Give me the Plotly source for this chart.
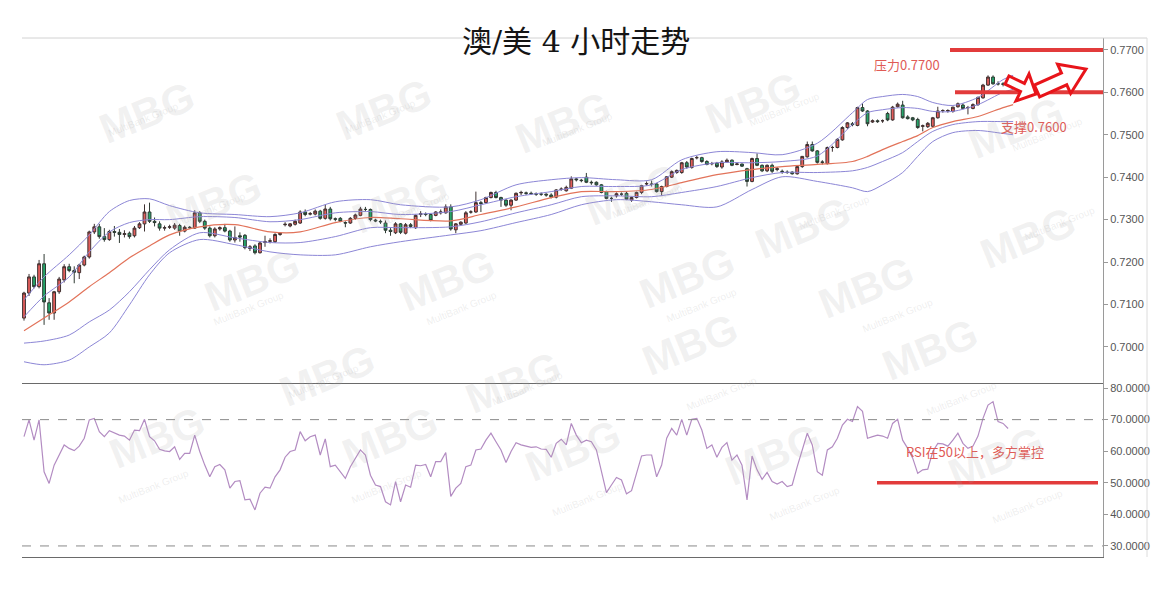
import plotly.graph_objects as go
import math

# ---------------- data (4h candles, prices in pips x 1e-4) ----------------
opens = [7068,7127,7165,7142,7196,7104,7080,7130,7158,7189,
         7180,7175,7193,7212,7271,7283,7260,7253,7272,7270,
         7265,7268,7262,7281,7290,7318,7296,7290,7280,7282,
         7280,7286,7273,7282,7280,7316,7296,7280,7262,7278,
         7281,7273,7252,7262,7263,7232,7238,7222,7246,7249,
         7248,7265,7288,7285,7289,7292,7318,7313,7313,7320,
         7303,7325,7302,7303,7293,7292,7303,7310,7324,7324,
         7299,7296,7292,7275,7269,7290,7268,7288,7281,7312,
         7313,7312,7310,7316,7316,7330,7276,7289,7292,7318,
         7318,7340,7340,7352,7364,7352,7346,7334,7346,7363,
         7363,7362,7361,7360,7360,7358,7353,7371,7368,7374,
         7396,7393,7400,7388,7388,7382,7366,7350,7356,7360,
         7362,7346,7352,7364,7384,7384,7384,7366,7378,7400,
         7411,7411,7434,7423,7446,7446,7437,7432,7433,7424,
         7436,7440,7430,7431,7420,7390,7444,7428,7415,7428,
         7418,7414,7412,7412,7408,7425,7448,7477,7462,7436,
         7432,7470,7470,7488,7517,7526,7522,7564,7556,7530,
         7533,7533,7550,7535,7566,7570,7542,7540,7536,7520,
         7519,7520,7540,7557,7556,7555,7566,7570,7564,7562,
         7571,7587,7617,7636,7620,7620,7618]
highs = [7130,7172,7170,7205,7219,7115,7132,7165,7195,7196,
         7190,7196,7215,7274,7290,7290,7280,7276,7285,7278,
         7275,7272,7285,7294,7336,7340,7305,7296,7286,7288,
         7292,7290,7286,7285,7322,7320,7300,7284,7282,7284,
         7290,7276,7284,7270,7266,7240,7242,7248,7262,7256,
         7268,7270,7294,7292,7300,7322,7324,7318,7324,7323,
         7335,7330,7305,7306,7296,7306,7314,7330,7330,7326,
         7302,7300,7298,7280,7294,7292,7292,7292,7312,7320,
         7317,7314,7320,7324,7336,7336,7292,7296,7320,7322,
         7366,7344,7354,7366,7368,7354,7348,7348,7364,7368,
         7366,7366,7364,7364,7362,7362,7372,7376,7380,7402,
         7398,7396,7410,7392,7390,7384,7368,7354,7364,7364,
         7366,7354,7366,7382,7390,7392,7386,7380,7402,7416,
         7418,7436,7438,7446,7450,7448,7440,7436,7436,7440,
         7444,7442,7434,7432,7422,7446,7456,7430,7430,7432,
         7424,7418,7416,7414,7427,7450,7484,7484,7464,7440,
         7472,7474,7492,7520,7530,7530,7566,7574,7558,7536,
         7536,7536,7554,7568,7576,7580,7546,7542,7540,7524,
         7530,7542,7566,7560,7560,7566,7576,7574,7568,7574,
         7590,7620,7640,7640,7626,7624,7622]
lows = [7062,7120,7138,7138,7052,7064,7064,7125,7152,7176,
        7150,7160,7190,7208,7266,7255,7248,7250,7260,7245,
        7258,7255,7258,7278,7272,7292,7284,7274,7274,7278,
        7276,7262,7270,7278,7278,7292,7276,7258,7258,7274,
        7270,7248,7246,7248,7230,7226,7218,7220,7236,7244,
        7245,7262,7284,7282,7286,7290,7308,7310,7310,7300,
        7300,7298,7296,7294,7282,7290,7300,7308,7320,7296,
        7294,7290,7268,7262,7266,7266,7265,7280,7278,7306,
        7308,7296,7308,7312,7314,7274,7268,7286,7290,7314,
        7316,7318,7338,7350,7350,7330,7330,7322,7344,7358,
        7358,7358,7356,7356,7354,7350,7350,7368,7366,7372,
        7390,7388,7386,7382,7380,7362,7348,7342,7352,7356,
        7346,7342,7350,7360,7380,7378,7364,7356,7376,7398,
        7408,7408,7420,7420,7442,7434,7428,7428,7422,7420,
        7434,7426,7428,7424,7378,7388,7426,7412,7412,7410,
        7414,7408,7408,7406,7406,7422,7446,7460,7432,7430,
        7430,7460,7468,7486,7514,7520,7520,7554,7520,7528,
        7528,7528,7532,7533,7564,7538,7536,7532,7514,7508,
        7516,7518,7538,7552,7552,7552,7564,7560,7548,7560,
        7568,7585,7615,7618,7616,7614,7614]
closes = [7127,7165,7142,7196,7106,7080,7130,7160,7189,7180,
          7176,7193,7212,7271,7283,7260,7253,7272,7270,7265,
          7267,7260,7280,7290,7318,7296,7293,7280,7281,7283,
          7287,7273,7282,7281,7316,7296,7280,7262,7278,7281,
          7273,7252,7258,7259,7234,7236,7222,7245,7248,7250,
          7265,7268,7289,7290,7296,7318,7312,7314,7320,7303,
          7325,7302,7301,7296,7292,7303,7311,7325,7324,7300,
          7297,7295,7275,7272,7290,7270,7288,7284,7310,7314,
          7312,7298,7318,7318,7330,7278,7290,7294,7316,7318,
          7340,7338,7352,7364,7352,7346,7334,7346,7362,7364,
          7362,7361,7360,7360,7358,7353,7370,7372,7376,7396,
          7394,7392,7388,7387,7382,7364,7350,7350,7361,7360,
          7348,7352,7364,7380,7385,7383,7366,7378,7401,7413,
          7416,7434,7424,7444,7446,7437,7430,7432,7425,7436,
          7440,7428,7431,7426,7390,7444,7428,7415,7428,7414,
          7420,7413,7411,7408,7425,7449,7477,7462,7435,7435,
          7470,7470,7489,7517,7528,7524,7564,7556,7526,7533,
          7531,7533,7535,7565,7572,7540,7538,7535,7517,7521,
          7527,7540,7556,7557,7557,7565,7573,7562,7564,7571,
          7588,7617,7636,7620,7620,7619,7617]

# Bollinger bands at sample candles
band_idx = [0,4,9,13,17,21,25,29,35,42,49,55,62,69,75,85,91,98,105,111,
            118,125,131,138,145,151,158,165,168,171,175,178,181,185,190,195,197]
band_upper2 = [0.7111,0.7165,0.7217,0.7264,0.7319,0.7345,0.7349,0.7333,0.7316,0.7312,
               0.7307,0.7316,0.7342,0.7347,0.7335,0.7330,0.7347,0.7382,0.7394,0.7399,
               0.7394,0.7394,0.7441,0.7460,0.7458,0.7453,0.7480,0.7552,0.7583,0.7590,
               0.7595,0.7590,0.7576,0.7569,0.7588,0.7630,0.7640]
band_upper1 = [0.7071,0.7120,0.7165,0.7224,0.7271,0.7293,0.7300,0.7300,0.7307,0.7305,
               0.7295,0.7300,0.7316,0.7319,0.7312,0.7319,0.7335,0.7354,0.7366,0.7378,
               0.7378,0.7382,0.7418,0.7434,0.7434,0.7437,0.7450,0.7524,0.7552,0.7559,
               0.7564,0.7562,0.7555,0.7555,0.7571,0.7600,0.7607]
band_mid = [0.7038,0.7068,0.7106,0.7142,0.7175,0.7210,0.7238,0.7264,0.7283,0.7288,
            0.7271,0.7271,0.7293,0.7305,0.7302,0.7297,0.7312,0.7330,0.7352,0.7366,
            0.7366,0.7371,0.7387,0.7406,0.7418,0.7425,0.7430,0.7437,0.7449,0.7465,
            0.7484,0.7498,0.7517,0.7531,0.7543,0.7564,0.7571]
band_lower1 = [0.7009,0.7014,0.7028,0.7059,0.7087,0.7130,0.7182,0.7229,0.7269,0.7257,
               0.7246,0.7246,0.7260,0.7281,0.7281,0.7283,0.7295,0.7316,0.7335,0.7354,
               0.7356,0.7354,0.7364,0.7378,0.7399,0.7411,0.7411,0.7415,0.7423,0.7437,
               0.7458,0.7484,0.7508,0.7524,0.7531,0.7531,0.7531]
band_lower2 = [0.6965,0.6958,0.6969,0.7000,0.7033,0.7099,0.7170,0.7222,0.7253,0.7241,
               0.7224,0.7217,0.7217,0.7236,0.7248,0.7264,0.7274,0.7293,0.7312,0.7335,
               0.7347,0.7342,0.7335,0.7330,0.7371,0.7401,0.7390,0.7375,0.7366,0.7382,
               0.7411,0.7449,0.7484,0.7505,0.7510,0.7503,0.7500]

rsi = [64.6,69.9,63.5,69.9,53.5,49.8,55.6,58.8,62.0,60.9,
       60.2,61.6,64.1,69.9,70.4,66.2,64.6,66.5,65.7,65.1,
       64.8,63.5,66.7,66.5,70.1,64.6,63.3,60.6,60.1,59.9,
       61.4,57.4,59.3,59.3,65.1,59.9,55.6,51.9,55.1,55.8,
       54.1,48.3,50.4,50.7,44.6,44.8,41.4,46.7,48.6,48.3,
       51.9,54.1,58.1,59.9,60.4,66.2,63.3,64.6,65.1,58.8,
       63.9,55.1,55.6,53.5,51.4,55.1,57.8,60.4,58.8,52.4,
       49.3,48.8,44.0,43.0,50.4,44.0,49.3,48.6,55.6,55.4,
       55.8,51.9,56.7,56.7,59.6,45.7,48.3,49.8,55.1,55.6,
       60.4,60.7,63.5,65.7,63.0,60.4,56.4,59.9,62.7,62.0,
       61.6,61.2,61.4,60.7,60.6,58.1,62.5,63.8,62.0,68.8,
       65.1,62.7,63.5,63.0,60.4,54.1,46.9,49.3,51.7,50.9,
       46.5,47.5,53.0,58.5,58.8,58.8,51.9,55.6,64.1,67.2,
       65.1,70.1,65.1,70.1,70.4,66.7,60.9,62.0,58.1,61.2,
       62.7,57.2,58.8,55.6,44.6,58.5,54.1,51.1,53.3,50.4,
       49.6,50.4,48.8,49.3,55.1,60.4,65.7,62.0,53.5,52.4,
       60.4,61.4,64.1,68.3,70.1,69.4,74.1,72.6,64.1,64.6,
       65.1,64.8,64.1,68.8,70.1,63.5,60.9,57.8,53.0,54.1,
       54.3,59.9,62.5,62.3,61.6,63.5,65.7,62.5,60.9,61.6,
       64.8,70.4,74.6,75.7,69.4,68.8,67.2]

price_ticks = [0.70, 0.71, 0.72, 0.73, 0.74, 0.75, 0.76, 0.77]
rsi_ticks = [30, 40, 50, 60, 70, 80]
rsi_guides = [70, 30]
resistance = 0.7700
support = 0.7600
rsi_level = 50

title = "澳/美 4 小时走势"
label_res = "压力0.7700"
label_sup = "支撑0.7600"
label_rsi = "RSI在50以上，多方掌控"

# ---------------- geometry (page pixels) ----------------
W, H = 1166, 597
PL, PR, PT, PB = 22, 1103, 38, 557       # plot area in page pixels
PW, PH = PR - PL, PB - PT
ML, MT = PL, PT
MR = W - PR
MB = H - PB
split = (PB - 383) / PH

def px2paper(x, y):
    return (x - PL) / PW, (PB - y) / PH

# ---------------- figure ----------------
idx = list(range(len(closes)))
p = lambda a: [v / 10000 for v in a]

fig = go.Figure()

band_col = "#8c86d6"
for arr in (band_upper2, band_upper1, band_lower1, band_lower2):
    fig.add_trace(go.Scatter(x=band_idx, y=arr, mode="lines",
                             line=dict(color=band_col, width=1, shape="spline", smoothing=0.8),
                             hoverinfo="skip", showlegend=False))
fig.add_trace(go.Scatter(x=band_idx, y=band_mid, mode="lines",
                         line=dict(color="#e2735a", width=1.2, shape="spline", smoothing=0.8),
                         hoverinfo="skip", showlegend=False))

fig.add_trace(go.Candlestick(
    x=idx, open=p(opens), high=p(highs), low=p(lows), close=p(closes),
    increasing=dict(fillcolor="#e35d5b", line=dict(color="#3d3030", width=1)),
    decreasing=dict(fillcolor="#25a56a", line=dict(color="#2f3a33", width=1)),
    whiskerwidth=0, showlegend=False, hoverinfo="skip"))

fig.add_trace(go.Scatter(x=idx, y=rsi, mode="lines", xaxis="x2", yaxis="y2",
                         line=dict(color="#b38cc2", width=1.2),
                         hoverinfo="skip", showlegend=False))

tickfont = dict(family="Liberation Sans, Arial, sans-serif", size=11, color="#555555")
xr = [-0.4, 214.9]
fig.update_layout(
    width=W, height=H, autosize=False,
    margin=dict(l=ML, r=MR, t=MT, b=MB, pad=0),
    paper_bgcolor="white", plot_bgcolor="white",
    boxgap=0.2,
    xaxis=dict(domain=[0, 1], anchor="y", range=xr, showticklabels=False, showgrid=False,
               zeroline=False, showline=True, linecolor="#6a6a6a", linewidth=1, ticks="",
               rangeslider=dict(visible=False), fixedrange=True),
    xaxis2=dict(domain=[0, 1], anchor="y2", range=xr, showticklabels=False, showgrid=False,
                zeroline=False, showline=True, linecolor="#6a6a6a", linewidth=1, ticks=""),
    yaxis=dict(domain=[split, 1], side="right", range=[0.6915, 0.7728], tickvals=price_ticks,
               tickformat=".4f", showgrid=False, zeroline=False, showline=True,
               linecolor="#9a9a9a", ticks="outside", ticklen=4, tickcolor="#9a9a9a",
               tickfont=tickfont),
    yaxis2=dict(domain=[0, split], side="right", anchor="x2", range=[26.5, 81.6], tickvals=rsi_ticks,
                tickformat=".4f", showgrid=False, zeroline=False, showline=True,
                linecolor="#9a9a9a", ticks="outside", ticklen=4, tickcolor="#9a9a9a",
                tickfont=tickfont),
)

shapes = []
fx_right, _ = px2paper(1147, 0)
shapes.append(dict(type="line", xref="paper", yref="paper", x0=0, x1=fx_right, y0=1, y1=1,
                   line=dict(color="#d2d2d2", width=1)))
shapes.append(dict(type="line", xref="paper", yref="paper", x0=fx_right, x1=fx_right, y0=0, y1=1,
                   line=dict(color="#dcdcdc", width=1)))
for g in rsi_guides:
    shapes.append(dict(type="line", xref="paper", yref="y2", x0=0, x1=1, y0=g, y1=g,
                       line=dict(color="#8a8a8a", width=1, dash="dash")))
x_res0, _ = px2paper(950, 0)
x_sup0, _ = px2paper(955, 0)
shapes.append(dict(type="line", xref="paper", yref="y", x0=x_res0, x1=1, y0=resistance, y1=resistance,
                   line=dict(color="#e23b3b", width=4)))
shapes.append(dict(type="line", xref="paper", yref="y", x0=x_sup0, x1=1, y0=support, y1=support,
                   line=dict(color="#e23b3b", width=4)))
x_r0, _ = px2paper(877, 0)
x_r1, _ = px2paper(1098, 0)
shapes.append(dict(type="line", xref="paper", yref="y2", x0=x_r0, x1=x_r1, y0=rsi_level, y1=rsi_level,
                   line=dict(color="#e23b3b", width=3.5)))

def arrow(tail, tip, shaft_w, head_w, head_len):
    tx, ty = tail
    hx, hy = tip
    L = math.hypot(hx - tx, hy - ty)
    ux, uy = (hx - tx) / L, (hy - ty) / L
    nx, ny = -uy, ux
    bx, by = hx - ux * head_len, hy - uy * head_len
    pts = [(tx + nx * shaft_w / 2, ty + ny * shaft_w / 2),
           (bx + nx * shaft_w / 2, by + ny * shaft_w / 2),
           (bx + nx * head_w / 2, by + ny * head_w / 2),
           (hx, hy),
           (bx - nx * head_w / 2, by - ny * head_w / 2),
           (bx - nx * shaft_w / 2, by - ny * shaft_w / 2),
           (tx - nx * shaft_w / 2, ty - ny * shaft_w / 2)]
    pp = [px2paper(x, y) for x, y in pts]
    return "M " + " L ".join(f"{a:.5f},{b:.5f}" for a, b in pp) + " Z"

for tail, tip, sw, hw, hl in [((1007, 80), (1036, 94), 9, 30, 15),
                               ((1037, 91), (1086, 69), 13, 32, 24)]:
    shapes.append(dict(type="path", xref="paper", yref="paper", path=arrow(tail, tip, sw, hw, hl),
                       fillcolor="white", line=dict(color="#e8141a", width=3)))

fig.update_layout(shapes=shapes)

annots = []
tx, ty = px2paper(576, 41)
annots.append(dict(text=title, xref="paper", yref="paper", x=tx, y=ty, showarrow=False,
                   xanchor="center", yanchor="middle",
                   font=dict(family="DejaVu Serif, Noto Sans CJK SC, serif", size=30, color="#151515")))
red_font = dict(family="Noto Sans CJK SC, Liberation Sans, sans-serif", size=13, color="#e05a55")
for text, (x, y) in [(label_res, (907, 64)), (label_sup, (1034, 126)), (label_rsi, (975, 452))]:
    ax, ay = px2paper(x, y)
    annots.append(dict(text=text, xref="paper", yref="paper", x=ax, y=ay, showarrow=False,
                       xanchor="center", yanchor="middle", font=red_font))

wm = [(90, 70), (327, 67), (563, 80), (810, 60), (1073, 85),
      (157, 160), (400, 160), (633, 152), (860, 185), (1085, 195),
      (195, 280), (447, 280), (687, 277), (923, 287),
      (270, 375), (513, 382), (747, 387), (987, 392),
      (100, 480), (333, 480), (573, 493), (830, 497), (1053, 500)]
for x, y in wm:
    ax, ay = px2paper(x, y)
    annots.append(dict(text="<b>MBG</b>", xref="paper", yref="paper", x=ax, y=ay, showarrow=False,
                       textangle=-22, font=dict(family="Liberation Sans, Arial", size=42,
                                                color="rgba(170,170,170,0.17)")))
    bx, by = px2paper(x + 14, y + 28)
    annots.append(dict(text="MultiBank Group", xref="paper", yref="paper", x=bx, y=by, showarrow=False,
                       textangle=-22, font=dict(family="Liberation Sans, Arial", size=10,
                                                color="rgba(170,170,170,0.2)")))
fig.update_layout(annotations=annots)

fig.write_html("out.html", config={"displayModeBar": False, "staticPlot": True},
               post_script="document.body.style.margin='0';document.body.style.overflow='hidden';")
